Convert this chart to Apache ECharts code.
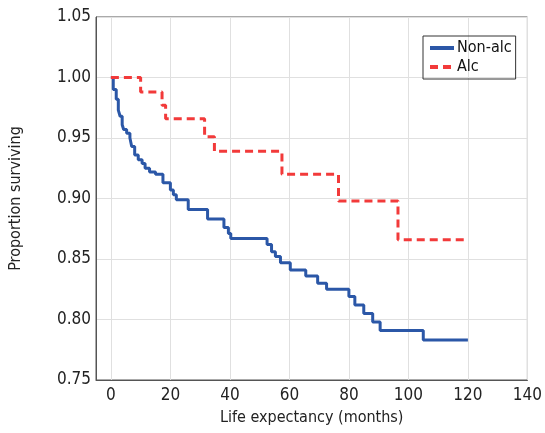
<!DOCTYPE html>
<html>
<head>
<meta charset="utf-8">
<script src="https://cdn.jsdelivr.net/npm/echarts@6/dist/echarts.min.js"></script>
<style>
html,body{margin:0;padding:0;background:#fff;}
#c{width:545px;height:433px;}
</style>
</head>
<body>
<div id="c"></div>
<script>
// Kaplan-Meier step data: [time (months), proportion surviving]
var nonAlcTimes = [0, 0.8, 1.8, 2.5, 3.1, 3.8, 4.3, 5.3, 6.4, 7.0, 8.0, 9.2, 10.5, 11.5, 13.0, 15.0, 17.5, 20.0, 21.0, 22.0, 26.0, 32.5, 38.0, 39.5, 40.3, 52.5, 54.0, 55.3, 57.0, 60.3, 65.5, 69.5, 72.5, 80.0, 82.0, 85.0, 88.0, 90.5, 105.0, 120.0];
var nonAlcSurv  = [1.000, 0.990, 0.982, 0.973, 0.968, 0.961, 0.957, 0.954, 0.950, 0.943, 0.936, 0.932, 0.929, 0.925, 0.922, 0.920, 0.913, 0.907, 0.903, 0.899, 0.891, 0.883, 0.876, 0.871, 0.867, 0.862, 0.856, 0.852, 0.847, 0.841, 0.836, 0.830, 0.825, 0.819, 0.812, 0.805, 0.798, 0.791, 0.783, 0.783];
var alcTimes = [0, 10.0, 17.2, 18.4, 31.5, 34.8, 57.5, 76.5, 96.5, 120.0];
var alcSurv  = [1.000, 0.988, 0.977, 0.966, 0.951, 0.939, 0.920, 0.898, 0.866, 0.866];
var xTicks = [0, 20, 40, 60, 80, 100, 120, 140];
var seriesNames = ['Non-alc', 'Alc'];

function pairs(xs, ys) { return xs.map(function (x, i) { return [x, ys[i]]; }); }

var font = '"DejaVu Sans Condensed", "Liberation Sans Narrow", sans-serif';
var chart = echarts.init(document.getElementById('c'), null, {renderer: 'canvas'});
chart.setOption({
  animation: false,
  backgroundColor: '#fff',
  grid: {left: 96, right: 13, top: 17, bottom: 53, show: true, borderColor: '#555', borderWidth: 1},
  legend: {
    orient: 'vertical', left: 423, top: 36, padding: [4, 4, 4, 5],
    borderColor: '#333', borderWidth: 1, itemGap: 3, itemWidth: 24, itemHeight: 14,
    itemStyle: {opacity: 0},
    lineStyle: {width: 4},
    textStyle: {fontFamily: font, fontSize: 16, color: '#111', padding: [0, 0, 0, -2]},
    data: seriesNames
  },
  xAxis: {
    type: 'value', min: -5, max: 140,
    name: 'Life expectancy (months)', nameLocation: 'middle', nameGap: 30,
    nameTextStyle: {fontFamily: font, fontSize: 16, color: '#222'},
    axisLine: {show: true, onZero: false, lineStyle: {color: '#555', width: 1}},
    axisTick: {show: false, customValues: xTicks},
    axisLabel: {customValues: xTicks, fontFamily: font, fontSize: 17, color: '#222', margin: 7},
    splitLine: {show: true, lineStyle: {color: '#e0e0e0', width: 1}}
  },
  yAxis: {
    type: 'value', min: 0.75, max: 1.05, interval: 0.05,
    name: 'Proportion surviving', nameLocation: 'middle', nameGap: 72,
    nameTextStyle: {fontFamily: font, fontSize: 16, color: '#222'},
    axisLine: {show: true, onZero: false, lineStyle: {color: '#555', width: 1}},
    axisTick: {show: false},
    axisLabel: {fontFamily: font, fontSize: 17, color: '#222', margin: 5,
      formatter: function (v) { return v.toFixed(2); }},
    splitLine: {show: true, lineStyle: {color: '#e0e0e0', width: 1}}
  },
  series: [
    {name: seriesNames[0], type: 'line', step: 'end', symbol: 'none',
     data: pairs(nonAlcTimes, nonAlcSurv),
     itemStyle: {color: '#2b57a7'},
     lineStyle: {color: '#2b57a7', width: 3}},
    {name: seriesNames[1], type: 'line', step: 'end', symbol: 'none',
     data: pairs(alcTimes, alcSurv),
     itemStyle: {color: '#f23a3a'},
     lineStyle: {color: '#f23a3a', width: 3, type: [8, 5]}}
  ]
});
</script>
</body>
</html>
